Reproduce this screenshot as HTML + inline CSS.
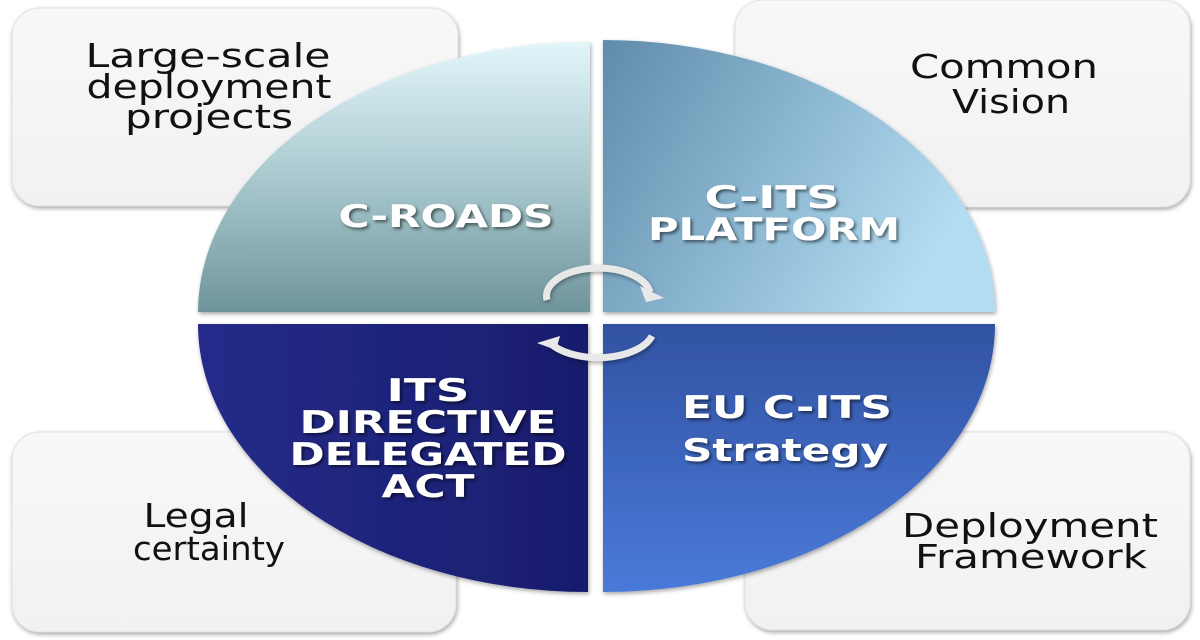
<!DOCTYPE html>
<html><head><meta charset="utf-8"><style>
html,body{margin:0;padding:0;background:#fff;width:1200px;height:640px;overflow:hidden}
svg{display:block}
.bx{font-family:"DejaVu Sans","Liberation Sans",sans-serif;font-size:33px;fill:#111;text-anchor:middle}
.ql{font-family:"DejaVu Sans","Liberation Sans",sans-serif;font-size:31px;font-weight:bold;fill:#fff;text-anchor:middle}
</style></head><body>
<svg width="1200" height="640" viewBox="0 0 1200 640">
<defs>
<linearGradient id="gb" x1="0" y1="0" x2="0" y2="1"><stop offset="0" stop-color="#f8f8f8"/><stop offset="1" stop-color="#f1f1f1"/></linearGradient>
<linearGradient id="gtl" x1="0" y1="0" x2="0" y2="1"><stop offset="0" stop-color="#e2f6fa"/><stop offset="0.5" stop-color="#a9c9cf"/><stop offset="1" stop-color="#6e959b"/></linearGradient>
<linearGradient id="gtr" x1="0" y1="0" x2="1" y2="0.4"><stop offset="0" stop-color="#5f8cab"/><stop offset="1" stop-color="#b3dcf2"/></linearGradient>
<linearGradient id="gbl" x1="0" y1="0" x2="1" y2="0"><stop offset="0" stop-color="#252c8a"/><stop offset="1" stop-color="#181c6c"/></linearGradient>
<linearGradient id="gbr" x1="0" y1="0" x2="0" y2="1"><stop offset="0" stop-color="#3152a2"/><stop offset="1" stop-color="#4a7ad9"/></linearGradient>
<filter id="sh"><feDropShadow dx="1" dy="2" stdDeviation="2" flood-color="#000" flood-opacity="0.35"/></filter>
<filter id="ts"><feDropShadow dx="2" dy="2" stdDeviation="1.5" flood-color="#000" flood-opacity="0.55"/></filter>
</defs>
<rect x="12" y="8" width="446" height="198" rx="28" fill="url(#gb)" stroke="#e2e2e2" filter="url(#sh)"/>
<rect x="735" y="0" width="455" height="207" rx="28" fill="url(#gb)" stroke="#e2e2e2" filter="url(#sh)"/>
<rect x="12" y="432" width="444" height="200" rx="28" fill="url(#gb)" stroke="#e2e2e2" filter="url(#sh)"/>
<rect x="745" y="432" width="445" height="198" rx="28" fill="url(#gb)" stroke="#e2e2e2" filter="url(#sh)"/>
<text class="bx" x="208" y="67" textLength="245" lengthAdjust="spacingAndGlyphs">Large-scale</text>
<text class="bx" x="209" y="98" textLength="245" lengthAdjust="spacingAndGlyphs">deployment</text>
<text class="bx" x="209" y="128" textLength="168" lengthAdjust="spacingAndGlyphs">projects</text>
<text class="bx" x="1004" y="78" textLength="188" lengthAdjust="spacingAndGlyphs">Common</text>
<text class="bx" x="1011" y="113" textLength="118" lengthAdjust="spacingAndGlyphs">Vision</text>
<text class="bx" x="196" y="527" textLength="105" lengthAdjust="spacingAndGlyphs">Legal</text>
<text class="bx" x="209" y="560" textLength="152" lengthAdjust="spacingAndGlyphs">certainty</text>
<text class="bx" x="1030" y="537" textLength="256" lengthAdjust="spacingAndGlyphs">Deployment</text>
<text class="bx" x="1031" y="568" textLength="232" lengthAdjust="spacingAndGlyphs">Framework</text>
<path d="M590,312 L198,312 A392,271 0 0 1 590,42 Z" fill="url(#gtl)" filter="url(#sh)"/>
<path d="M603,312 L603,40 A392,272 0 0 1 995,312 Z" fill="url(#gtr)" filter="url(#sh)"/>
<path d="M588,324 L588,592 A390,268 0 0 1 198,324 Z" fill="url(#gbl)" filter="url(#sh)"/>
<path d="M603,324 L995,324 A392,268 0 0 1 603,592 Z" fill="url(#gbr)" filter="url(#sh)"/>
<g filter="url(#ts)">
<text class="ql" x="446" y="227" textLength="215" lengthAdjust="spacingAndGlyphs">C-ROADS</text>
<text class="ql" x="772" y="208" textLength="135" lengthAdjust="spacingAndGlyphs">C-ITS</text>
<text class="ql" x="774" y="240" textLength="252" lengthAdjust="spacingAndGlyphs">PLATFORM</text>
<text class="ql" x="428" y="401" textLength="83" lengthAdjust="spacingAndGlyphs">ITS</text>
<text class="ql" x="428" y="433" textLength="257" lengthAdjust="spacingAndGlyphs">DIRECTIVE</text>
<text class="ql" x="428" y="465" textLength="277" lengthAdjust="spacingAndGlyphs">DELEGATED</text>
<text class="ql" x="428" y="497" textLength="93" lengthAdjust="spacingAndGlyphs">ACT</text>
<text class="ql" x="787" y="418" textLength="210" lengthAdjust="spacingAndGlyphs">EU C-ITS</text>
<text class="ql" x="785" y="461" textLength="206" lengthAdjust="spacingAndGlyphs">Strategy</text>
</g>
<g fill="none" stroke="#e8e8e8" stroke-width="7" filter="url(#sh)">
<path d="M547,300 A52,28 0 0 1 650,292"/>
<path d="M652,336 A56,30 0 0 1 550,343"/>
</g>
<polygon points="640,286 664,298 646,302" fill="#e8e8e8"/>
<polygon points="560,336 537,343 556,350" fill="#e8e8e8"/>
</svg>
</body></html>
